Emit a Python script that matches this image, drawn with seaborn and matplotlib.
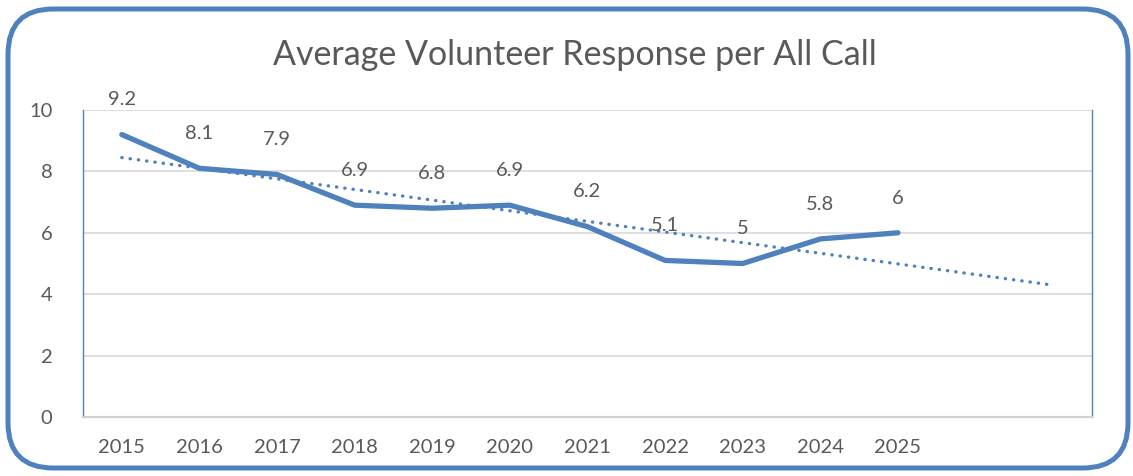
import numpy as np
import pandas as pd
import seaborn as sns
import matplotlib.pyplot as plt
from matplotlib.patches import FancyBboxPatch

years = ['2015', '2016', '2017', '2018', '2019', '2020', '2021', '2022', '2023', '2024', '2025']
avg_response = [9.2, 8.1, 7.9, 6.9, 6.8, 6.9, 6.2, 5.1, 5.0, 5.8, 6.0]
label_text = ['9.2', '8.1', '7.9', '6.9', '6.8', '6.9', '6.2', '5.1', '5', '5.8', '6']
forecast_periods = 2

blue = '#4F81BD'
text_grey = '#595959'

sns.set_theme(style='white')
plt.rcParams['font.family'] = ['Lato', 'DejaVu Sans']

df = pd.DataFrame({'pos': np.arange(len(years)), 'value': avg_response})

# linear trendline, forecast forward 2 periods like Excel
slope, intercept = np.polyfit(df['pos'], df['value'], 1)
trend_x = np.array([0, len(years) - 1 + forecast_periods])
trend_df = pd.DataFrame({'pos': trend_x, 'value': slope * trend_x + intercept})

fig = plt.figure(figsize=(11.33, 4.76), dpi=100)
ax = fig.add_axes([83 / 1133, 1 - 417 / 476, (1092 - 83) / 1133, (417 - 110) / 476])

# rounded outer border
border = FancyBboxPatch((8 / 1133, 8 / 476), 1120 / 1133, 459 / 476,
                        boxstyle='round,pad=0,rounding_size=0.04',
                        transform=fig.transFigure, fill=False,
                        edgecolor=blue, linewidth=3.6, mutation_aspect=1133 / 476)
fig.patches.append(border)

sns.lineplot(data=trend_df, x='pos', y='value', ax=ax, color=blue,
             linewidth=2.4, linestyle=(0, (0.1, 2.4)), dash_capstyle='round')
sns.lineplot(data=df, x='pos', y='value', ax=ax, color=blue, linewidth=3.8,
             solid_capstyle='round', solid_joinstyle='round')

for x, y, t in zip(df['pos'], df['value'], label_text):
    ax.annotate(t, (x, y), xytext=(0, 25), textcoords='offset points',
                ha='center', va='center', fontsize=14.5, color=text_grey)

ax.set_xlim(-0.5, len(years) - 1 + forecast_periods + 0.5)
ax.set_ylim(0, 10)
ax.set_xticks(range(len(years)))
ax.set_xticklabels(years)
ax.set_yticks(range(0, 11, 2))
ax.tick_params(axis='both', length=0, labelsize=14.5, labelcolor=text_grey)
ax.tick_params(axis='x', pad=16)
ax.tick_params(axis='y', pad=22)
ax.set_xlabel('')
ax.set_ylabel('')
ax.grid(axis='y', color='#D9D9D9', linewidth=1.2)
ax.set_axisbelow(True)

for side in ['left', 'right']:
    ax.spines[side].set_color(blue)
    ax.spines[side].set_linewidth(1.0)
ax.spines['top'].set_visible(False)
ax.spines['bottom'].set_color('#D0D0D0')
ax.spines['bottom'].set_linewidth(1.5)

fig.text(575 / 1133, 1 - 55 / 476, 'Average Volunteer Response per All Call',
         ha='center', va='center', fontsize=24.5, color=text_grey)

fig.savefig('out.png', dpi=100)
